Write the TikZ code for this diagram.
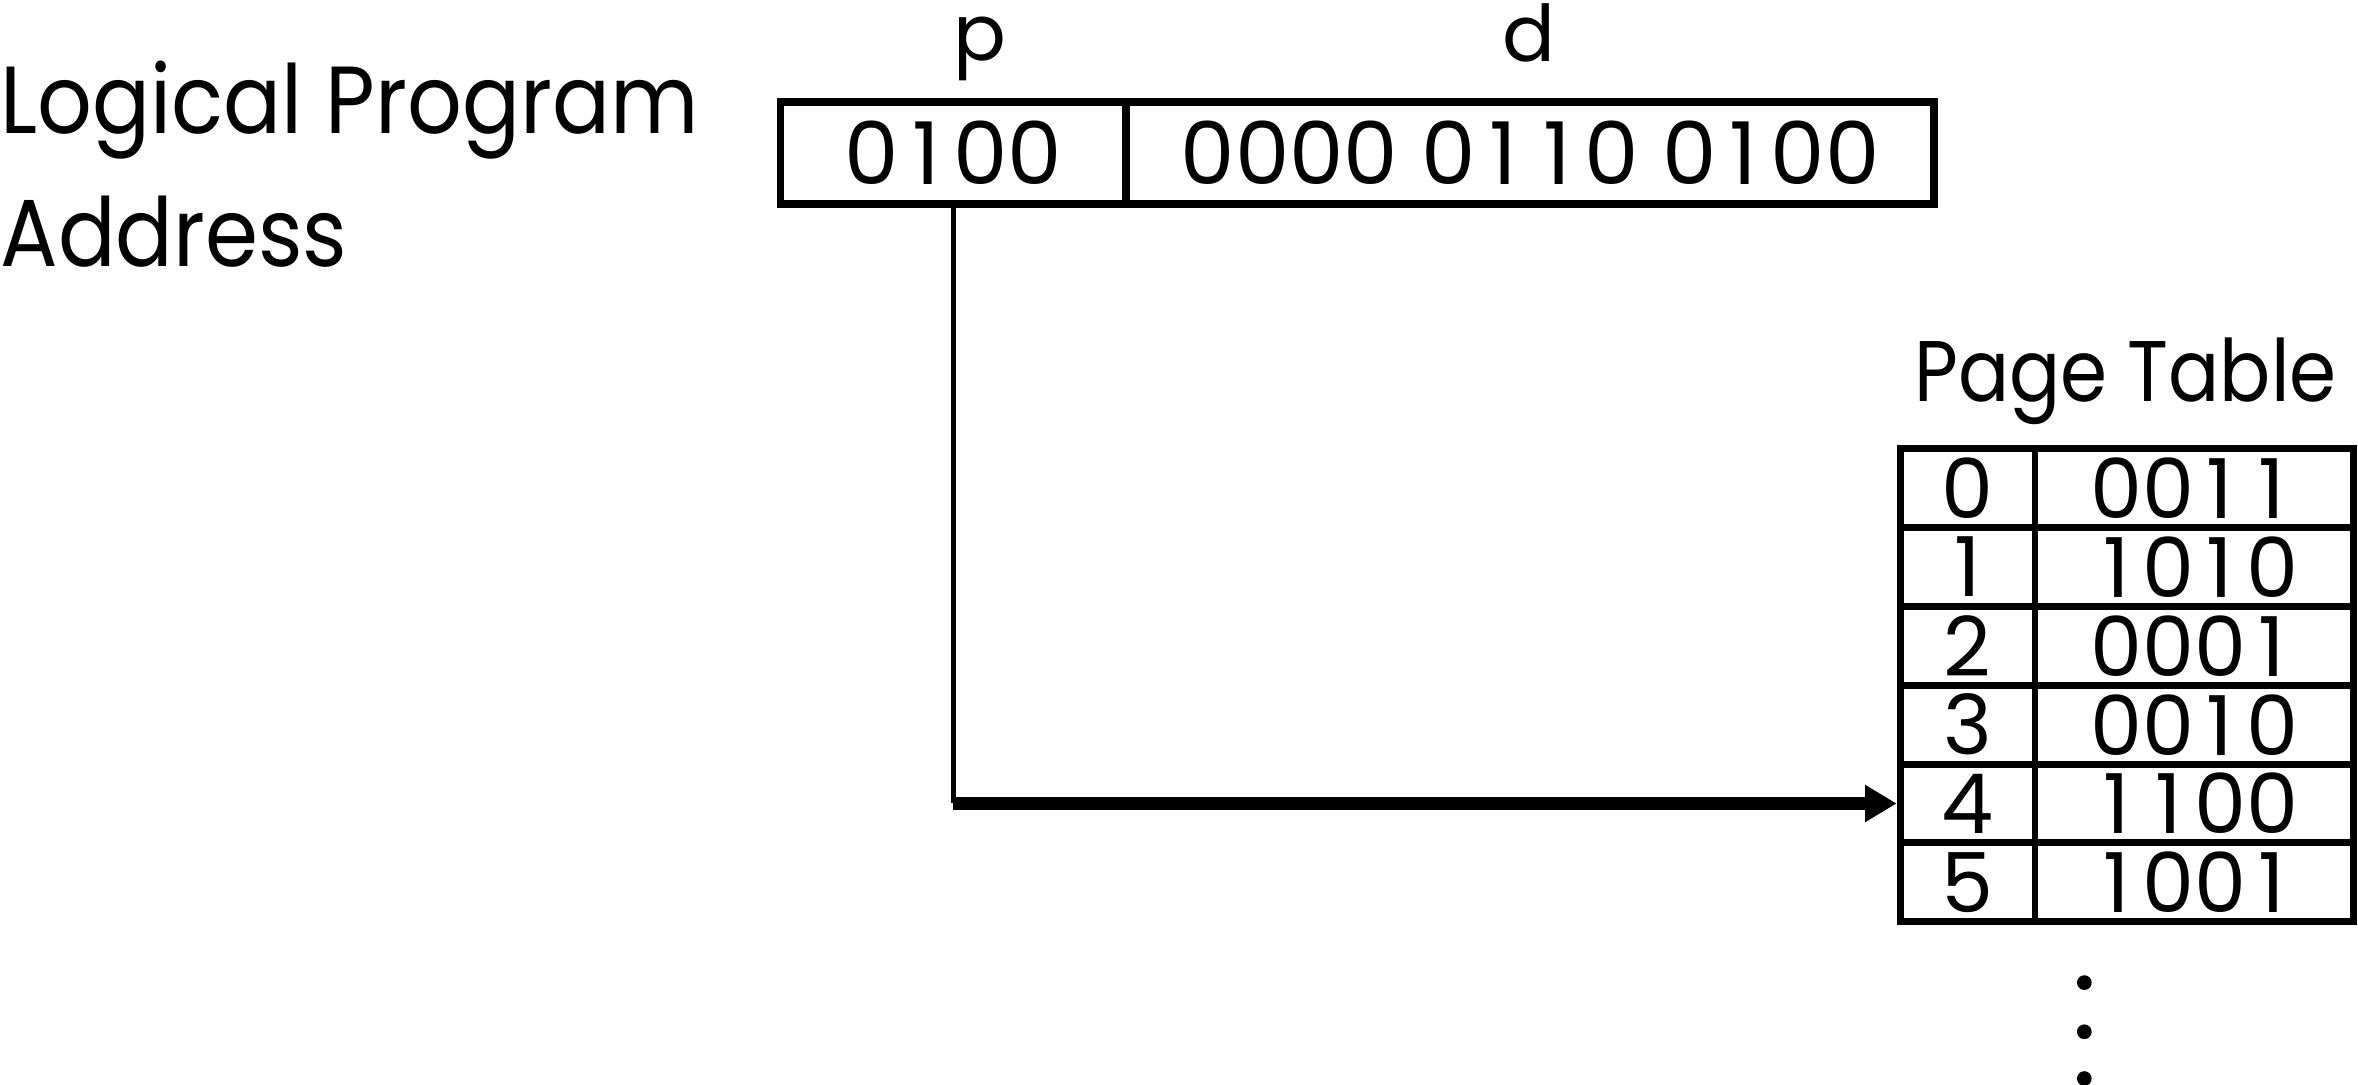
\documentclass[tikz,border=0pt]{standalone}
\usepackage{graphicx}
\usepackage{fontspec}
\setmainfont{Poppins}
\newcommand\hsc[2]{\scalebox{#1}[1]{#2}}
\newlength\tnumwd
\ExplSyntaxOn
\NewDocumentCommand\tnum{m}{
  \settowidth{\tnumwd}{0}
  \tl_map_inline:nn {#1} {\makebox[\tnumwd][c]{##1}}
}
\ExplSyntaxOff
\usetikzlibrary{arrows.meta}
\begin{document}
\begin{tikzpicture}[x=0.5pt,y=-0.5pt,
  lbl/.style={inner sep=0pt, font=\fontsize{31.7}{36}\selectfont},
  toplbl/.style={inner sep=0pt, font=\fontsize{26}{30}\selectfont},
  boxcell/.style={draw, line width=2.6pt, minimum height=34pt, inner sep=0pt,
    font=\fontsize{28.8}{32}\selectfont},
  tcell/.style={draw, line width=2.3pt, minimum height=26.2pt, inner sep=0pt,
    font=\fontsize{27.5}{30}\selectfont},
  lcol/.style={tcell, minimum width=44.85pt},
  rcol/.style={tcell, minimum width=105.9pt},
  dot/.style={circle, fill=black, inner sep=0pt, minimum size=4.9pt},
]
\useasboundingbox (0,0) rectangle (1568,721);

% left title
\node[lbl, anchor=base west] (lp) at (0,88.7) {\hsc{0.9}{Logical Program}};
\node[lbl, anchor=base west] (addr) at (0,177.3) {\hsc{0.895}{Address}};

% logical address box
\node[boxcell, minimum width=115pt] (pcell) at (634,101.65) {\tnum{0100}};
\node[boxcell, minimum width=268.5pt] (dcell) at (1017.5,101.65) {\tnum{0000} \tnum{0110} \tnum{0100}};
\node[toplbl, anchor=base] (plbl) at (651.5,40) {p};
\node[toplbl, anchor=base] (dlbl) at (1016.5,41) {d};

% page table
\node[inner sep=0pt, anchor=base west, font=\fontsize{28.6}{32}\selectfont] (ptl) at (1272.7,267) {\hsc{0.88}{Page Table}};
\foreach \i/\v in {0/0011,1/1010,2/0001,3/0010,4/1100,5/1001}{
  \node[lcol] (r\i l) at (1308.35,{298.5+52.4*(\i+0.5)}) {\i};
  \node[rcol] (r\i r) at (1459.1,{298.5+52.4*(\i+0.5)}) {\expandafter\tnum\expandafter{\v}};
}
\node[dot] (d1) at (1386,653.4) {};
\node[dot] (d2) at (1386,686.1) {};
\node[dot] (d3) at (1386,717.2) {};

% connector
\coordinate (corner) at (pcell.south |- r4l.west);
\draw[line width=1.65pt] (pcell.south) -- (corner);
\draw[line width=4.1pt, -{Triangle[length=10.5pt,width=11.7pt]}] (corner) -- (r4l.west);
\end{tikzpicture}
\end{document}
